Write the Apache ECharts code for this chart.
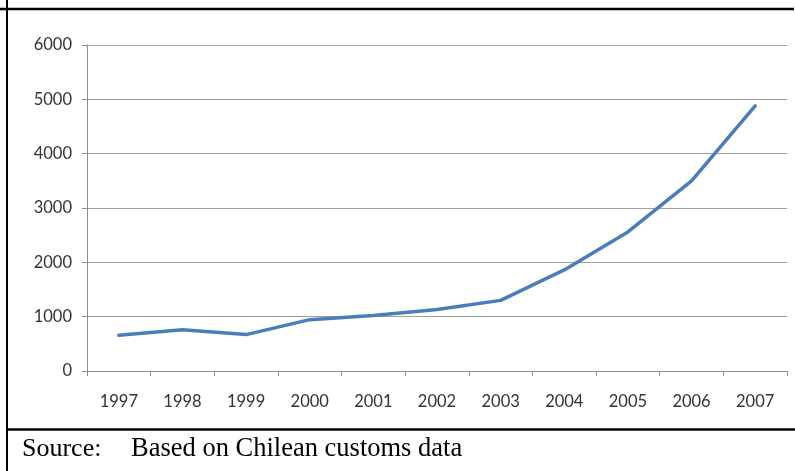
<!DOCTYPE html>
<html>
<head>
<meta charset="utf-8">
<script src="https://cdn.jsdelivr.net/npm/echarts@6/dist/echarts.min.js"></script>
<style>
  html, body { margin: 0; padding: 0; background: #fff; }
  #chart { width: 795px; height: 471px; }
</style>
</head>
<body>
<div id="chart"></div>
<script>
// years on the x axis
var years = ['1997', '1998', '1999', '2000', '2001', '2002', '2003', '2004', '2005', '2006', '2007'];
// values
var values = [660, 760, 670, 945, 1020, 1130, 1300, 1860, 2560, 3500, 4880];
var yTicks = [0, 1000, 2000, 3000, 4000, 5000, 6000];
var sourceLabel = 'Source:';
var sourceText = 'Based on Chilean customs data';

var myChart = echarts.init(document.getElementById('chart'), null, { renderer: 'canvas' });

var option = {
  backgroundColor: '#fff',
  animation: false,
  grid: {
    left: 87,
    right: 8,
    top: 45,
    bottom: 100
  },
  xAxis: {
    type: 'category',
    data: years,
    boundaryGap: true,
    axisLine: { lineStyle: { color: '#8e8e8e', width: 1 } },
    axisTick: { show: true, length: 5, lineStyle: { color: '#8e8e8e' } },
    axisLabel: {
      interval: 0,
      margin: 22,
      color: '#333',
      fontFamily: 'Lato',
      fontSize: 16.5
    }
  },
  yAxis: {
    type: 'value',
    min: yTicks[0],
    max: yTicks[yTicks.length - 1],
    interval: 1000,
    axisLine: { show: true, lineStyle: { color: '#8e8e8e', width: 1 } },
    axisTick: { show: true, length: 5, lineStyle: { color: '#8e8e8e' } },
    splitLine: { show: true, lineStyle: { color: '#a0a0a0', width: 1 } },
    axisLabel: {
      margin: 15,
      color: '#333',
      fontFamily: 'Lato',
      fontSize: 16.5,
      formatter: function (v) { return String(v); }
    }
  },
  series: [{
    type: 'line',
    data: values,
    symbol: 'none',
    smooth: false,
    lineStyle: { color: '#4a7ebb', width: 3.5, cap: 'round', join: 'round' }
  }],
  graphic: [
    // frame lines of the table the chart sits in
    { type: 'line', shape: { x1: 0, y1: 9, x2: 794, y2: 9 }, style: { stroke: '#000', lineWidth: 2.5 } },
    { type: 'line', shape: { x1: 7, y1: 0, x2: 7, y2: 471 }, style: { stroke: '#000', lineWidth: 2 } },
    { type: 'line', shape: { x1: 6, y1: 429.5, x2: 795, y2: 429.5 }, style: { stroke: '#000', lineWidth: 2.5 } },
    {
      type: 'text', left: 22, top: 436,
      style: { text: sourceLabel, font: '26px "Liberation Serif"', fill: '#000' }
    },
    {
      type: 'text', left: 131, top: 436,
      style: { text: sourceText, font: '26.5px "Liberation Serif"', fill: '#000' }
    }
  ]
};

myChart.setOption(option);
</script>
</body>
</html>
